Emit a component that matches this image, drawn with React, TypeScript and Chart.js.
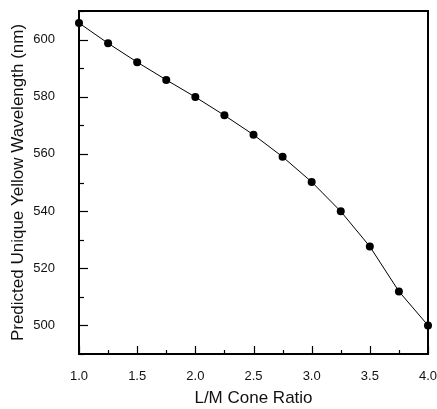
import React, { useEffect, useRef } from "react";
import { Chart, registerables } from "chart.js";

Chart.register(...registerables);

const ratios = [1.0, 1.25, 1.5, 1.75, 2.0, 2.25, 2.5, 2.75, 3.0, 3.25, 3.5, 3.75, 4.0];
const wavelengths = [605.8, 598.7, 592.1, 585.9, 579.9, 573.5, 566.7, 559.0, 550.2, 539.9, 527.6, 511.9, 500.0];
const xTitle = "L/M Cone Ratio";
const yTitle = "Predicted Unique Yellow Wavelength (nm)";

const FONT = "'Liberation Sans', Arial, Helvetica, sans-serif";

const frameAndTicks = {
  id: "frameAndTicks",
  beforeDatasetsDraw(chart: any) {
    const { ctx, chartArea } = chart;
    const { left, right, top, bottom } = chartArea;
    ctx.save();
    ctx.strokeStyle = "#000";
    ctx.lineWidth = 1.2;
    const xs = chart.scales.x;
    xs.ticks.forEach((t: any) => {
      const px = Math.round(xs.getPixelForValue(t.value)) + 0.5;
      const major = Math.abs(t.value * 2 - Math.round(t.value * 2)) < 1e-6;
      const len = major ? 8 : 4;
      ctx.beginPath();
      ctx.moveTo(px, bottom);
      ctx.lineTo(px, bottom - len);
      ctx.stroke();
    });
    const ys = chart.scales.y;
    ys.ticks.forEach((t: any) => {
      const py = Math.round(ys.getPixelForValue(t.value)) + 0.5;
      const major = Math.round(t.value) % 20 === 0;
      const len = major ? 9 : 5;
      ctx.beginPath();
      ctx.moveTo(left, py);
      ctx.lineTo(left + len, py);
      ctx.stroke();
    });
    ctx.lineWidth = 2;
    ctx.strokeRect(left, top, right - left, bottom - top);
    ctx.restore();
  },
};

export default function App() {
  const ref = useRef<HTMLCanvasElement | null>(null);
  useEffect(() => {
    document.body.style.margin = "0";
    const canvas = ref.current!;
    const chart = new Chart(canvas, {
      type: "line",
      data: {
        datasets: [
          {
            data: ratios.map((r, i) => ({ x: r, y: wavelengths[i] })),
            borderColor: "#000",
            borderWidth: 1,
            backgroundColor: "#000",
            pointBackgroundColor: "#000",
            pointBorderColor: "#000",
            pointRadius: 4,
            pointBorderWidth: 0,
            tension: 0,
            fill: false,
            clip: false,
          } as any,
        ],
      },
      options: {
        animation: false,
        responsive: false,
        devicePixelRatio: 1,
        layout: { padding: { top: 11, right: 9, left: 0, bottom: 0 } },
        plugins: { legend: { display: false }, tooltip: { enabled: false } },
        scales: {
          x: {
            type: "linear",
            min: 1,
            max: 4,
            grid: { display: false },
            border: { display: false },
            ticks: {
              stepSize: 0.25,
              autoSkip: false,
              maxRotation: 0,
              padding: 7,
              color: "#111",
              font: { family: FONT, size: 13 },
              callback: (v: any) => {
                const n = Number(v);
                return Math.abs(n * 2 - Math.round(n * 2)) < 1e-6 ? n.toFixed(1) : "";
              },
            },
            title: {
              display: true,
              text: xTitle,
              color: "#111",
              font: { family: FONT, size: 17 },
              padding: { top: 0, bottom: 0 },
            },
            afterFit: (s: any) => {
              s.height = 55;
              s.paddingLeft = 0;
              s.paddingRight = 0;
            },
          },
          y: {
            type: "linear",
            min: 490,
            max: 610,
            grid: { display: false },
            border: { display: false },
            ticks: {
              stepSize: 10,
              autoSkip: false,
              padding: 16,
              color: "#111",
              font: { family: FONT, size: 13 },
              callback: (v: any) => {
                const n = Math.round(Number(v));
                return n % 20 === 0 ? String(n) : "";
              },
            },
            title: {
              display: true,
              text: yTitle,
              color: "#111",
              font: { family: FONT, size: 17 },
              padding: { top: 8, bottom: 0 },
            },
            afterFit: (s: any) => {
              s.width = 79;
              s.paddingTop = 0;
              s.paddingBottom = 0;
            },
          },
        },
      },
      plugins: [frameAndTicks],
    });
    return () => chart.destroy();
  }, []);
  return (
    <div style={{ position: "fixed", left: 0, top: 0, width: 437, height: 409, background: "#fff" }}>
      <canvas ref={ref} width={437} height={409} style={{ display: "block" }} />
    </div>
  );
}
